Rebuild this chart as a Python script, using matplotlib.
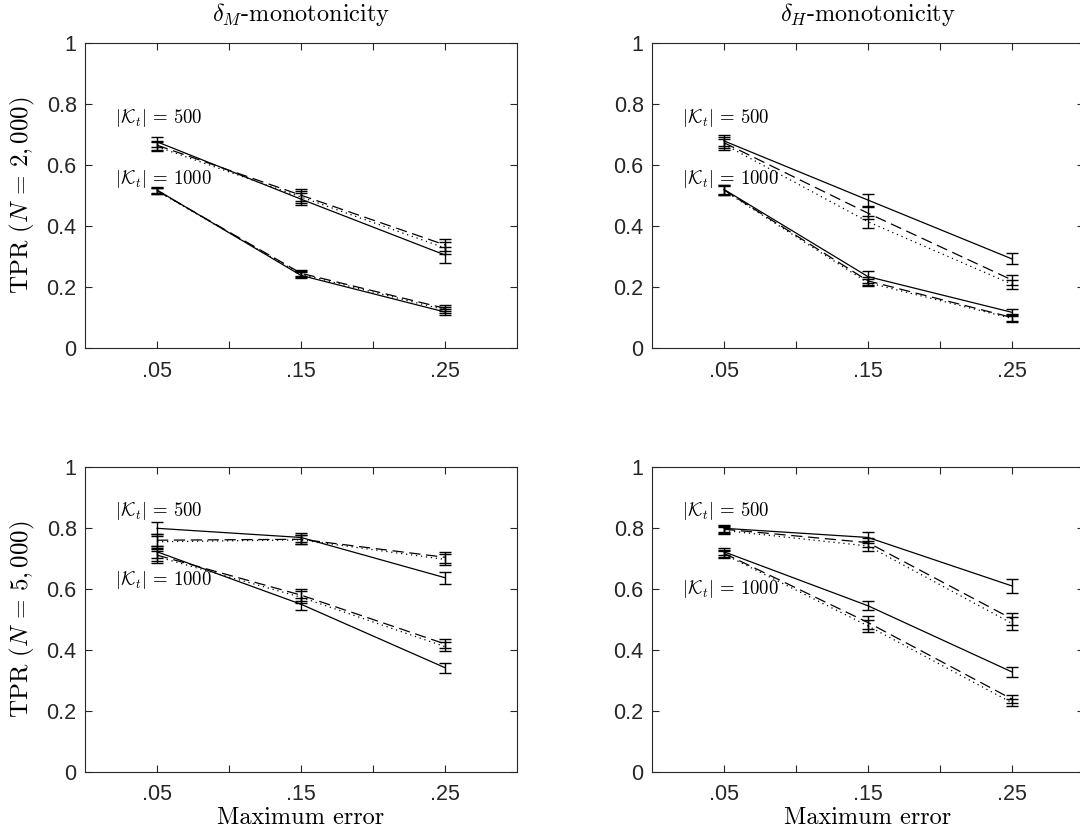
import matplotlib
matplotlib.use("Agg")
import matplotlib.pyplot as plt

plt.rcParams['mathtext.fontset'] = 'cm'
plt.rcParams['font.family'] = ['Liberation Sans', 'DejaVu Sans']

# maximum error levels (x axis)
max_err = [0.05, 0.15, 0.25]
xtick_pos = [0.05, 0.10, 0.15, 0.20, 0.25]
xtick_lab = ['.05', '', '.15', '', '.25']

# each block: rows = solid, dashed, dotted series
# delta_M, N = 2,000
dM_2k_500 = [[0.676, 0.488, 0.305], [0.665, 0.501, 0.338], [0.660, 0.495, 0.328]]
dM_2k_500_e = [[0.016, 0.02, 0.025], [0.015, 0.02, 0.02], [0.015, 0.02, 0.02]]
dM_2k_1000 = [[0.518, 0.238, 0.118], [0.516, 0.245, 0.130], [0.515, 0.242, 0.125]]
dM_2k_1000_e = [[0.01, 0.01, 0.01], [0.01, 0.01, 0.01], [0.01, 0.01, 0.01]]

# delta_H, N = 2,000
dH_2k_500 = [[0.679, 0.485, 0.292], [0.673, 0.442, 0.223], [0.668, 0.414, 0.209]]
dH_2k_500_e = [[0.018, 0.02, 0.018], [0.018, 0.02, 0.015], [0.018, 0.02, 0.015]]
dH_2k_1000 = [[0.520, 0.234, 0.117], [0.518, 0.220, 0.100], [0.516, 0.214, 0.097]]
dH_2k_1000_e = [[0.015, 0.02, 0.012], [0.015, 0.012, 0.012], [0.015, 0.012, 0.012]]

# delta_M, N = 5,000
dM_5k_500 = [[0.799, 0.769, 0.637], [0.760, 0.763, 0.704], [0.755, 0.761, 0.697]]
dM_5k_500_e = [[0.02, 0.015, 0.02], [0.02, 0.015, 0.018], [0.02, 0.015, 0.018]]
dM_5k_1000 = [[0.722, 0.550, 0.342], [0.711, 0.580, 0.420], [0.706, 0.573, 0.411]]
dM_5k_1000_e = [[0.02, 0.02, 0.017], [0.02, 0.02, 0.015], [0.02, 0.02, 0.015]]

# delta_H, N = 5,000
dH_5k_500 = [[0.799, 0.769, 0.610], [0.796, 0.752, 0.502], [0.792, 0.741, 0.487]]
dH_5k_500_e = [[0.012, 0.018, 0.022], [0.012, 0.015, 0.02], [0.012, 0.015, 0.02]]
dH_5k_1000 = [[0.722, 0.545, 0.328], [0.717, 0.490, 0.239], [0.714, 0.479, 0.227]]
dH_5k_1000_e = [[0.012, 0.015, 0.015], [0.012, 0.02, 0.012], [0.012, 0.02, 0.012]]

titles = [r'$\delta_M$-monotonicity', r'$\delta_H$-monotonicity']
ylabels = [r'TPR ($N\,=\,2,000$)', r'TPR ($N\,=\,5,000$)']
k_labels = [r'$|\mathcal{K}_t|\,=\,500$', r'$|\mathcal{K}_t|\,=\,1000$']

series_dashes = [None, (9, 4.5), (1, 3)]

panels = [
    (dM_2k_500, dM_2k_500_e, dM_2k_1000, dM_2k_1000_e, (0.757, 0.557)),
    (dH_2k_500, dH_2k_500_e, dH_2k_1000, dH_2k_1000_e, (0.757, 0.557)),
    (dM_5k_500, dM_5k_500_e, dM_5k_1000, dM_5k_1000_e, (0.856, 0.630)),
    (dH_5k_500, dH_5k_500_e, dH_5k_1000, dH_5k_1000_e, (0.856, 0.603)),
]

W, H = 1080, 834
fig = plt.figure(figsize=(W / 100, H / 100), dpi=100)
lefts = [85, 652]
bottoms = [348, 772]
serif = ['cmr10', 'DejaVu Serif']
dark = '#262626'

for i, (m5, e5, m10, e10, ky) in enumerate(panels):
    row, col = divmod(i, 2)
    ax = fig.add_axes([lefts[col] / W, 1 - bottoms[row] / H, 432 / W, 305 / H])
    for blk, errs in ((m5, e5), (m10, e10)):
        for vals, ev, ds in zip(blk, errs, series_dashes):
            ln = ax.errorbar(max_err, vals, yerr=ev, color='black', lw=0.9,
                             elinewidth=1.0, capsize=4, capthick=1.0)
            if ds is not None:
                ln[0].set_dashes(ds)
    ax.text(0.021, ky[0], k_labels[0], fontsize=13.5, va='center', ha='left')
    ax.text(0.021, ky[1], k_labels[1], fontsize=13.5, va='center', ha='left')

    ax.set_xlim(0, 0.30)
    ax.set_ylim(0, 1)
    ax.set_xticks(xtick_pos)
    ax.set_xticklabels(xtick_lab)
    ax.set_yticks([0, 0.2, 0.4, 0.6, 0.8, 1.0])
    ax.set_yticklabels(['0', '0.2', '0.4', '0.6', '0.8', '1'])
    ax.tick_params(direction='in', top=True, right=True, length=5,
                   labelsize=15.5, colors=dark, width=0.8)
    ax.tick_params(axis='x', pad=9)
    ax.tick_params(axis='y', pad=6)
    for sp in ax.spines.values():
        sp.set_color(dark)
        sp.set_linewidth(0.8)

    if row == 0:
        ax.set_title(titles[col], fontsize=17.5, family=serif, pad=16)
    if row == 1:
        ax.set_xlabel('Maximum error', fontsize=17.5, family=serif, labelpad=1)
    if col == 0:
        ax.set_ylabel(ylabels[row], fontsize=18, family=serif, labelpad=7)

fig.savefig('out.png', dpi=100)
